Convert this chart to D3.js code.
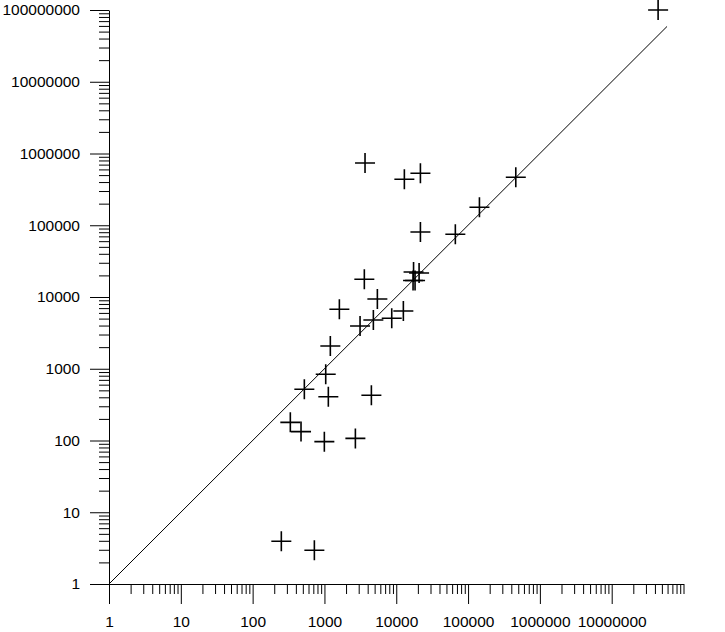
<!DOCTYPE html>
<html>
<head>
<meta charset="utf-8">
<script src="https://cdn.jsdelivr.net/npm/d3@7"></script>
<style>
  html, body { margin: 0; padding: 0; background: #fff; }
  svg { display: block; }
</style>
</head>
<body>
<svg id="chart" width="725" height="632"></svg>
<script>
const xValues = [4.43e7, 3675, 12970, 21700, 21700, 66500, 462000, 144000, 3594,
  17420, 17140, 18270, 20800, 5458, 1614, 3133, 4801, 8653, 12560,
  1208, 1042, 525, 1133, 4505, 335, 472, 997, 2697, 251, 724];
const yValues = [1.0e8, 738000, 437000, 530000, 80500, 74800, 466000, 178000, 17700,
  22300, 16980, 17000, 21600, 9376, 6745, 3945, 4779, 5050, 6383,
  2075, 837, 517, 408, 427, 179, 133, 96.3, 107, 3.94, 2.95];
// identity reference line
const lineExtent = [1, 5.9e7];
const xMajorTicks = [1, 10, 100, 1000, 10000, 100000, 1000000, 10000000];
const yMajorTicks = [1, 10, 100, 1000, 10000, 100000, 1000000, 10000000, 100000000];

const FONT = "'Liberation Sans', Arial, Helvetica, sans-serif";
const FSIZE = "15.5px";

const svg = d3.select("#chart");
const x = d3.scaleLog().domain([1, 1e8]).range([109, 683.5]);
const y = d3.scaleLog().domain([1, 1e8]).range([584, 10]);

function minors(maxExp) {
  const out = [];
  for (let e = 0; e < maxExp; e++) {
    for (let m = 2; m <= 10; m++) out.push(m * Math.pow(10, e));
  }
  return out;
}
const xMinor = minors(8).filter(v => !xMajorTicks.includes(v));
const yMinor = minors(8).filter(v => !yMajorTicks.includes(v));

const fmt = d => String(Math.round(d));
const styleText = g => g.selectAll("text")
  .attr("font-family", FONT).attr("font-size", FSIZE).attr("fill", "#000");

// X axis
svg.append("g").attr("transform", "translate(0,584)")
  .call(d3.axisBottom(x).tickValues(xMinor).tickSize(10).tickSizeOuter(0).tickFormat(""))
  .call(g => g.select(".domain").attr("stroke", "#000"));
svg.append("g").attr("transform", "translate(0,584)")
  .call(d3.axisBottom(x).tickValues(xMajorTicks).tickSize(20).tickSizeOuter(0).tickPadding(12).tickFormat(fmt))
  .call(g => g.select(".domain").remove())
  .call(styleText);

// Y axis
svg.append("g").attr("transform", "translate(109,0)")
  .call(d3.axisLeft(y).tickValues(yMinor).tickSize(10).tickSizeOuter(0).tickFormat(""))
  .call(g => g.select(".domain").attr("stroke", "#000"));
svg.append("g").attr("transform", "translate(109,0)")
  .call(d3.axisLeft(y).tickValues(yMajorTicks).tickSize(19).tickSizeOuter(0).tickPadding(10).tickFormat(fmt))
  .call(g => g.select(".domain").remove())
  .call(styleText);

svg.selectAll(".tick line").attr("stroke", "#000");

// identity line
svg.append("line")
  .attr("x1", x(lineExtent[0])).attr("y1", y(lineExtent[0]))
  .attr("x2", x(lineExtent[1])).attr("y2", y(lineExtent[1]))
  .attr("stroke", "#000").attr("stroke-width", 1);

// plus markers
const pts = xValues.map((v, i) => [v, yValues[i]]);
const arm = 10;
const g = svg.append("g").attr("stroke", "#000").attr("stroke-width", 1.6);
g.selectAll("path.plus").data(pts).join("path")
  .attr("class", "plus")
  .attr("fill", "none")
  .attr("d", d => {
    const cx = x(d[0]), cy = y(d[1]);
    return `M${cx - arm},${cy}H${cx + arm}M${cx},${cy - arm}V${cy + arm}`;
  });
</script>
</body>
</html>
